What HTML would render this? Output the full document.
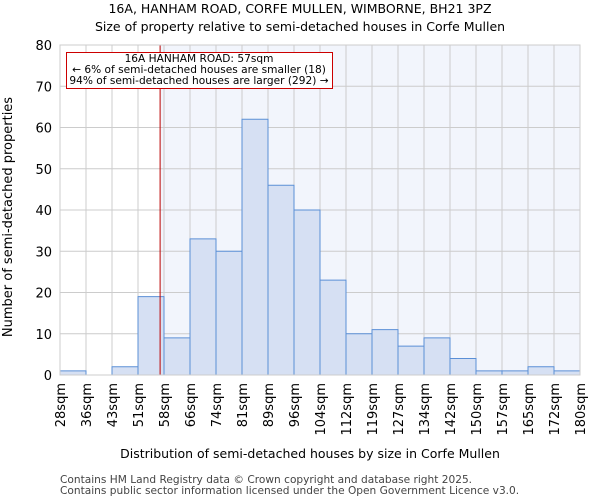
<!DOCTYPE html>
<html><head><meta charset="utf-8"><style>
body{margin:0;background:#fff;font-family:"DejaVu Sans","Liberation Sans",sans-serif;}
svg text{font-family:"DejaVu Sans","Liberation Sans",sans-serif;}
</style></head><body>
<svg id="c" width="600" height="500" xmlns="http://www.w3.org/2000/svg">
<text x="300" y="13" text-anchor="middle" font-size="12.5">16A, HANHAM ROAD, CORFE MULLEN, WIMBORNE, BH21 3PZ</text>
<text x="300" y="31" text-anchor="middle" font-size="12.5">Size of property relative to semi-detached houses in Corfe Mullen</text>
<g id="plot"></g>
<text x="310" y="458" text-anchor="middle" font-size="12.5">Distribution of semi-detached houses by size in Corfe Mullen</text>
<text transform="translate(12,217) rotate(-90)" text-anchor="middle" font-size="13">Number of semi-detached properties</text>
<text x="60" y="483" font-size="10.6" fill="#444">Contains HM Land Registry data © Crown copyright and database right 2025.</text>
<text x="60" y="494" font-size="10.6" fill="#444">Contains public sector information licensed under the Open Government Licence v3.0.</text>
</svg>
<script>
const categories=["28sqm","36sqm","43sqm","51sqm","58sqm","66sqm","74sqm","81sqm","89sqm","96sqm","104sqm","112sqm","119sqm","127sqm","134sqm","142sqm","150sqm","157sqm","165sqm","172sqm","180sqm"];
const counts=[1,0,2,19,9,33,30,62,46,40,23,10,11,7,9,4,1,1,2,1];
const yTicks=[0,10,20,30,40,50,60,70,80];
const markerBin=3.85;
const NS="http://www.w3.org/2000/svg";
const g=document.getElementById('plot');
const L=60,R=580,T=45,B=375,yMax=80;
const xs=i=>L+(R-L)*i/counts.length;
const ys=v=>B-(B-T)*v/yMax;
function mk(t,a){const e=document.createElementNS(NS,t);for(const k in a)e.setAttribute(k,a[k]);g.appendChild(e);return e;}
const mx=xs(markerBin);
let e=mk('rect',{x:mx,y:T,width:R-mx,height:B-T,fill:'#f2f5fc'});


yTicks.forEach(v=>{
 let l=mk('line',{x1:L,x2:R,y1:ys(v),y2:ys(v),stroke:'#ccc','stroke-width':1});
 
 
 let t=mk('text',{x:L-8,y:ys(v)+5,'text-anchor':'end','font-size':13});
 t.textContent=v;
 
 
});
categories.forEach((c,i)=>{
 let l=mk('line',{x1:xs(i),x2:xs(i),y1:T,y2:B,stroke:'#ccc','stroke-width':1});
 
 
 let t=mk('text',{transform:`translate(${xs(i)+5},${B+8}) rotate(-90)`,'text-anchor':'end','font-size':13});
 t.textContent=c;
 
 
});
counts.forEach((v,i)=>{
 let r=mk('rect',{x:xs(i),y:ys(v),width:xs(i+1)-xs(i),height:B-ys(v),fill:'#d6e0f3',stroke:'#5b8fd6','stroke-width':1});
 
 
});
e=mk('line',{x1:mx,x2:mx,y1:T,y2:B,stroke:'#b00','stroke-width':1});


e=mk('rect',{x:L,y:T,width:R-L,height:B-T,fill:'none',stroke:'#ccc'});


e=mk('rect',{x:66.5,y:52.5,width:266,height:36,fill:'#fff',stroke:'#c00','stroke-width':1});


["16A HANHAM ROAD: 57sqm","← 6% of semi-detached houses are smaller (18)","94% of semi-detached houses are larger (292) →"].forEach((s,k)=>{
 let t=mk('text',{x:199,y:62+k*11,'text-anchor':'middle','font-size':10.6});
 t.textContent=s;
 
 
});
</script>
</body></html>
